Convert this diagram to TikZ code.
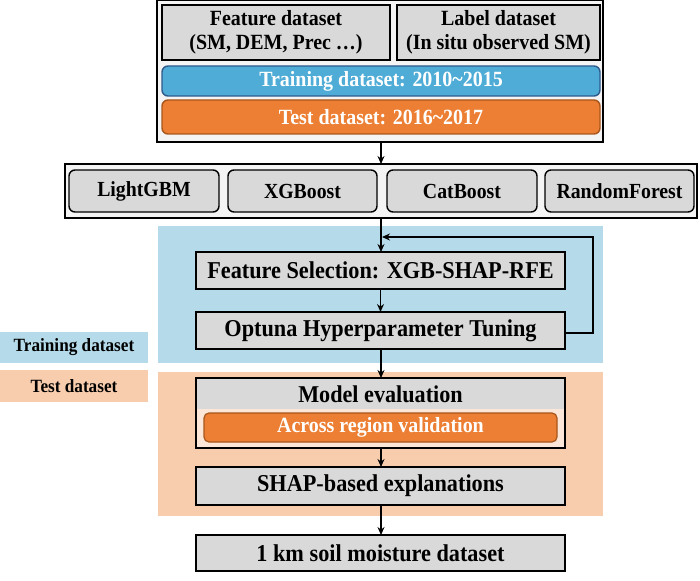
\documentclass[tikz,border=0pt]{standalone}
\usepackage{fontspec}
\setmainfont{Liberation Serif}[FakeStretch=0.92]
\usetikzlibrary{arrows.meta}

\definecolor{framefill}{HTML}{F4F4F4}
\definecolor{boxgray}{HTML}{D9D9D9}
\definecolor{trainblue}{HTML}{4FACD6}
\definecolor{trainedge}{HTML}{2E5A8C}
\definecolor{testorange}{HTML}{EC7F33}
\definecolor{testedge}{HTML}{A9561C}
\definecolor{regionblue}{HTML}{B5DBEA}
\definecolor{regionpeach}{HTML}{F8CDAE}
\definecolor{lightpeach}{HTML}{FBE6D7}

\tikzset{
  every node/.style={inner sep=0pt, outer sep=0pt, font=\bfseries},
  frame/.style={draw=black, line width=1.6pt, fill=framefill},
  graybox/.style={draw=black, line width=1.6pt, fill=boxgray, font=\bfseries\fontsize{24.2}{26}\selectfont},
  datasetbox/.style={draw=black, line width=1.6pt, fill=boxgray, align=center,
     font=\bfseries\fontsize{21.7}{24.5}\selectfont},
  modelbox/.style={draw=black, line width=1.4pt, fill=boxgray, rounded corners=6pt,
     minimum height=42pt, font=\bfseries\fontsize{21.5}{23}\selectfont},
  bluebar/.style={draw=trainedge, line width=1.4pt, fill=trainblue, rounded corners=6pt,
     text=white, font=\bfseries\fontsize{21.7}{23}\selectfont},
  orangebar/.style={draw=testedge, line width=1.4pt, fill=testorange, rounded corners=6pt,
     text=white, font=\bfseries\fontsize{21.7}{23}\selectfont},
  sidelabel/.style={minimum width=148pt, font=\bfseries\fontsize{18.7}{20}\selectfont},
  flow/.style={line width=1.5pt, -{Stealth[length=8pt,width=7pt]}},
}

\begin{document}
\begin{tikzpicture}[x=1pt,y=-1pt]
\useasboundingbox (0,0) rectangle (700,580);

% background regions for the training and test stages
\fill[regionblue] (158,226) rectangle (603,363);
\fill[regionpeach] (158,372) rectangle (603,516);
\node[sidelabel, fill=regionblue, minimum height=31pt] (trainlab) at (74,347.5) {Training dataset};
\node[sidelabel, fill=regionpeach, minimum height=32pt] (testlab) at (74,386) {Test dataset};

% input datasets
\node[frame, minimum width=446pt, minimum height=142pt] (topframe) at (380,71) {};
\node[datasetbox, minimum width=228pt, minimum height=55pt] (feat) at (276,32.5)
  {Feature dataset\\(SM, DEM, Prec \dots)};
\node[datasetbox, minimum width=203pt, minimum height=55pt] (label) at (498.5,32.5)
  {Label dataset\\(In situ observed SM)};
\node[bluebar, minimum width=438pt, minimum height=30pt] (trainbar) at (381,81)
  {Training dataset: 2010\textasciitilde2015};
\node[orangebar, minimum width=438pt, minimum height=34pt] (testbar) at (381,117)
  {Test dataset: 2016\textasciitilde2017};

% candidate models
\node[frame, minimum width=632pt, minimum height=54pt] (modelframe) at (381,191) {};
\node[modelbox, minimum width=150pt] (lgbm) at (144,191) {LightGBM};
\node[modelbox, minimum width=149pt] (xgb) at (302.5,191) {XGBoost};
\node[modelbox, minimum width=150pt] (cat) at (462,191) {CatBoost};
\node[modelbox, minimum width=149pt] (rf) at (619.5,191) {RandomForest};

% training stage
\node[graybox, minimum width=369pt, minimum height=37pt] (fsel) at (380.5,270.5)
  {Feature Selection: XGB-SHAP-RFE};
\node[graybox, minimum width=369pt, minimum height=37pt] (optuna) at (380.5,330.5)
  {Optuna Hyperparameter Tuning};

% test stage: evaluation box with a grey title strip over a light lower part
\node[minimum width=369pt, minimum height=70pt] (evalbox) at (380.5,413) {};
\fill[boxgray] (evalbox.north west) rectangle ([yshift=-31pt]evalbox.north east);
\fill[lightpeach] ([yshift=-31pt]evalbox.north west) rectangle (evalbox.south east);
\draw[line width=1.6pt] (evalbox.north west) rectangle (evalbox.south east);
\node[font=\bfseries\fontsize{24.1}{26}\selectfont] (evaltitle) at (380.5,394) {Model evaluation};
\node[orangebar, line width=1.2pt, rounded corners=5pt, minimum width=353pt, minimum height=29pt] (across)
  at (380.5,427.5) {Across region validation};
\node[graybox, minimum width=369pt, minimum height=38pt] (shap) at (380.5,486)
  {SHAP-based explanations};

% product
\node[graybox, minimum width=369pt, minimum height=36pt] (final) at (380.5,553)
  {1 km soil moisture dataset};

% flow connectors
\coordinate (fbjoin) at (381,237);
\draw[flow] (topframe.south -| 381,0) -- (modelframe.north -| 381,0);
\draw[flow] (modelframe.south -| 381,0) -- (fsel.north -| 381,0);
\draw[flow] (fsel) -- (optuna);
\draw[flow] (optuna.south -| 381,0) -- (evalbox.north -| 381,0);
\draw[flow] (evalbox.south -| 381,0) -- (shap.north -| 381,0);
\draw[flow] (shap.south -| 381,0) -- (final.north -| 381,0);
\draw[flow] ([yshift=-2.5pt]optuna.east) -| (593,237) -- ([xshift=1pt]fbjoin);
\end{tikzpicture}
\end{document}
